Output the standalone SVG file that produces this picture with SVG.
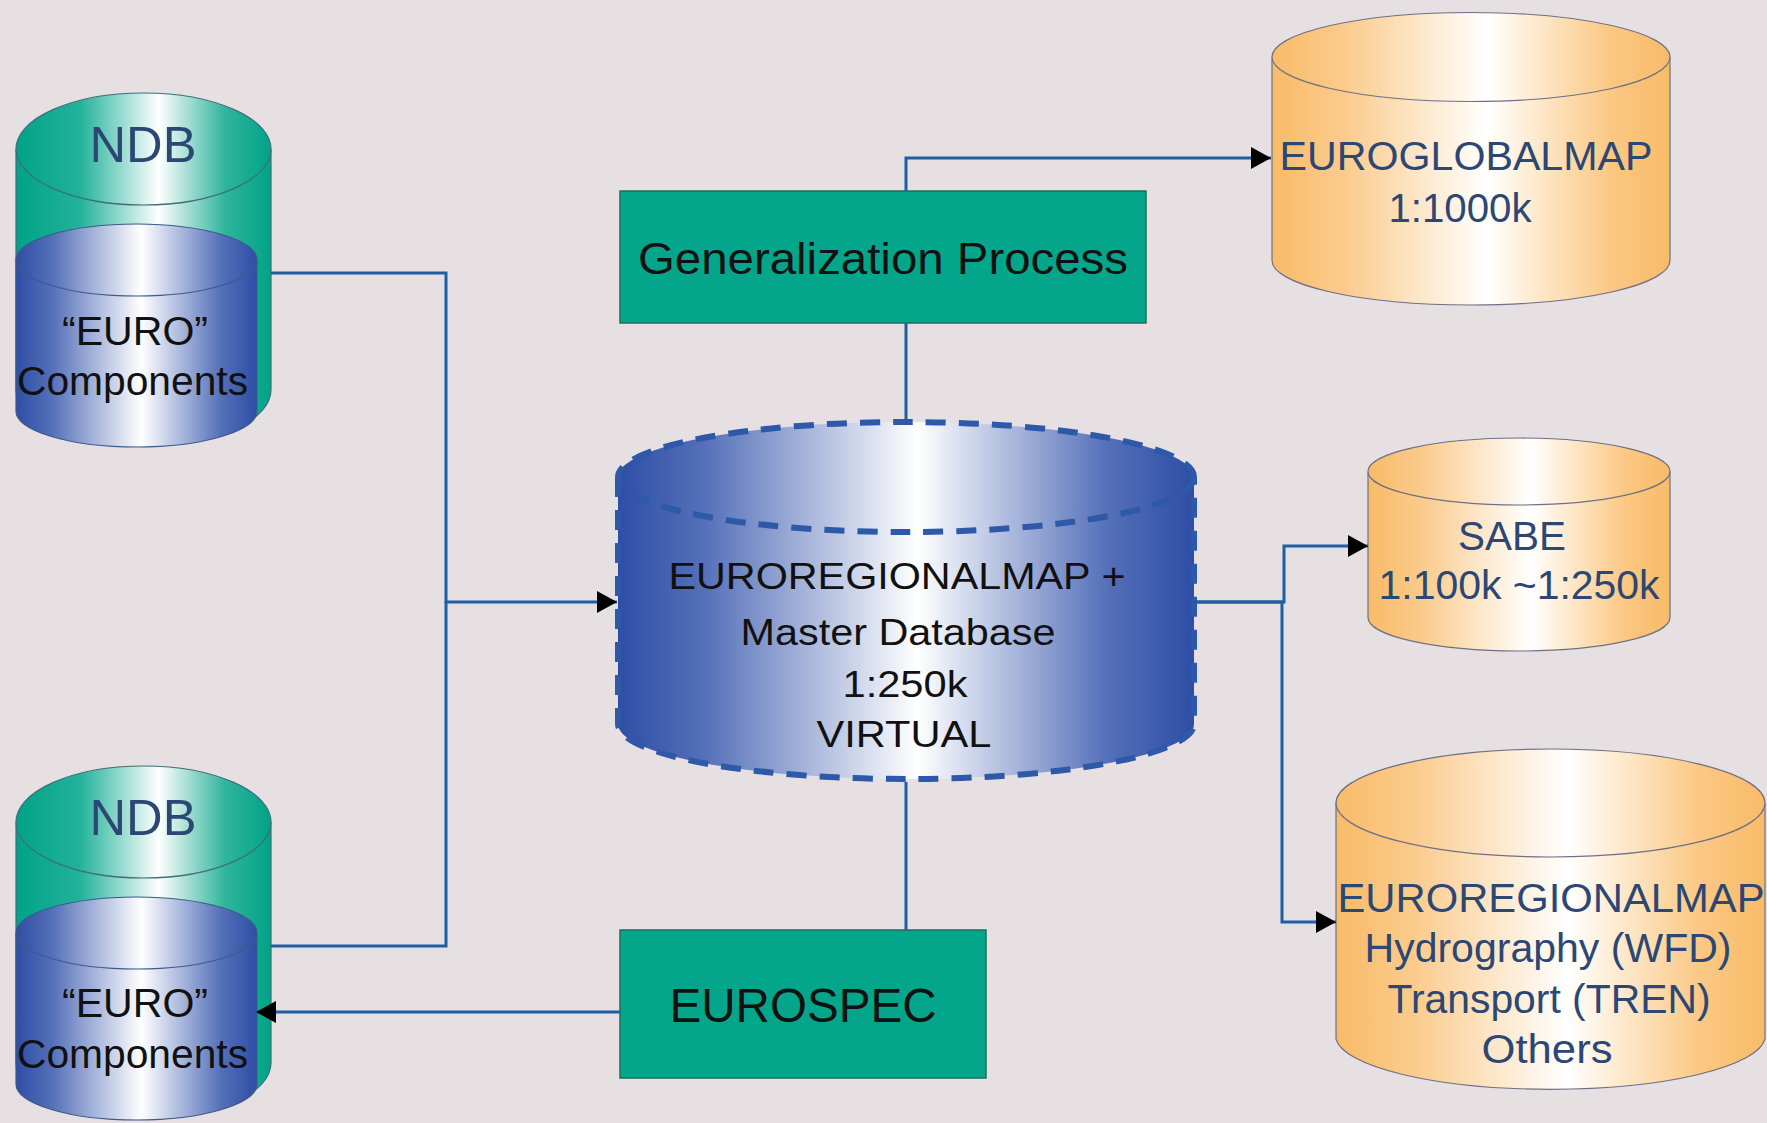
<svg xmlns="http://www.w3.org/2000/svg" width="1767" height="1123" viewBox="0 0 1767 1123">
<defs>
<linearGradient id="gGreen" x1="0" y1="0" x2="1" y2="0">
<stop offset="0" stop-color="#00a388"/><stop offset="0.25" stop-color="#22b29a"/><stop offset="0.56" stop-color="#ffffff"/><stop offset="0.82" stop-color="#2fb59c"/><stop offset="1" stop-color="#00a388"/>
</linearGradient>
<linearGradient id="gBlue" x1="0" y1="0" x2="1" y2="0">
<stop offset="0" stop-color="#2e4ea6"/><stop offset="0.15" stop-color="#5570b9"/><stop offset="0.52" stop-color="#ffffff"/><stop offset="0.85" stop-color="#5570b9"/><stop offset="1" stop-color="#2e4ea6"/>
</linearGradient>
<linearGradient id="gOrange" x1="0" y1="0" x2="1" y2="0">
<stop offset="0" stop-color="#f8bb68"/><stop offset="0.18" stop-color="#fbcb8c"/><stop offset="0.54" stop-color="#ffffff"/><stop offset="0.85" stop-color="#fbc883"/><stop offset="1" stop-color="#f8bb68"/>
</linearGradient>
<marker id="arr" viewBox="0 0 20 22" refX="20" refY="11" markerWidth="20" markerHeight="22" markerUnits="userSpaceOnUse" orient="auto">
<path d="M0,0 L20,11 L0,22 Z" fill="#000"/>
</marker>
</defs>
<style>
.bg{fill:#e6e0e2}
.conn{fill:none;stroke:#1d5fa3;stroke-width:3}
.green{fill:url(#gGreen);stroke:#3d6f78;stroke-width:1.2}
.blue{fill:url(#gBlue);stroke:#3d5a8a;stroke-width:1.2}
.orange{fill:url(#gOrange);stroke:#6f7085;stroke-width:1.2}
.dash{fill:none;stroke:#2e58a8;stroke-width:6;stroke-dasharray:20 13}
.box{fill:#03a58b;stroke:#17705f;stroke-width:1.5}
.t{font-family:"Liberation Sans",Arial,sans-serif;text-anchor:middle}
.dk{fill:#111}
.nb{fill:#2c4773}
</style>
<rect class="bg" x="0" y="0" width="1767" height="1123"/>

<g id="ndb-top">
<path class="green" d="M16,149 V390 A127.5,56 0 0 0 271,390 V149"/>
<ellipse class="green" cx="143.5" cy="149" rx="127.5" ry="56"/>
<path class="blue" d="M16,260 V411 A120.5,36 0 0 0 257,411 V260"/>
<ellipse class="blue" cx="136.5" cy="260" rx="120.5" ry="36"/>
<text class="t nb" x="143" y="162" font-size="50" textLength="107" lengthAdjust="spacingAndGlyphs">NDB</text>
<text class="t dk" x="135" y="345" font-size="41" textLength="146" lengthAdjust="spacingAndGlyphs">“EURO”</text>
<text class="t dk" x="132.5" y="395" font-size="41" textLength="231" lengthAdjust="spacingAndGlyphs">Components</text>
</g>

<g id="ndb-bottom">
<path class="green" d="M16,822 V1063 A127.5,56 0 0 0 271,1063 V822"/>
<ellipse class="green" cx="143.5" cy="822" rx="127.5" ry="56"/>
<path class="blue" d="M16,933 V1084 A120.5,36 0 0 0 257,1084 V933"/>
<ellipse class="blue" cx="136.5" cy="933" rx="120.5" ry="36"/>
<text class="t nb" x="143" y="835" font-size="50" textLength="107" lengthAdjust="spacingAndGlyphs">NDB</text>
<text class="t dk" x="135" y="1017" font-size="41" textLength="146" lengthAdjust="spacingAndGlyphs">“EURO”</text>
<text class="t dk" x="132.5" y="1068" font-size="41" textLength="231" lengthAdjust="spacingAndGlyphs">Components</text>
</g>

<g id="generalization">
<rect class="box" x="620" y="191" width="526" height="132"/>
<text class="t dk" x="883" y="274" font-size="45" textLength="490" lengthAdjust="spacingAndGlyphs">Generalization Process</text>
</g>

<g id="eurospec">
<rect class="box" x="620" y="930" width="366" height="148"/>
<text class="t dk" x="803" y="1022" font-size="48" textLength="267" lengthAdjust="spacingAndGlyphs">EUROSPEC</text>
</g>

<g id="master">
<path d="M618,477 A288,55 0 0 1 1194,477 V724 A288,55 0 0 1 618,724 Z" fill="url(#gBlue)"/>
<path class="dash" d="M618,477 V724 A288,55 0 0 0 1194,724 V477"/>
<ellipse class="dash" cx="906" cy="477" rx="288" ry="55"/>
<text class="t dk" x="897" y="589" font-size="37" textLength="457" lengthAdjust="spacingAndGlyphs">EUROREGIONALMAP +</text>
<text class="t dk" x="898" y="645" font-size="37" textLength="315" lengthAdjust="spacingAndGlyphs">Master Database</text>
<text class="t dk" x="905" y="697" font-size="37" textLength="125" lengthAdjust="spacingAndGlyphs">1:250k</text>
<text class="t dk" x="904" y="747" font-size="37" textLength="175" lengthAdjust="spacingAndGlyphs">VIRTUAL</text>
</g>

<g id="euroglobalmap">
<path class="orange" d="M1272,57 V260.5 A199,44.5 0 0 0 1670,260.5 V57"/>
<ellipse class="orange" cx="1471" cy="57" rx="199" ry="44.5"/>
<text class="t nb" x="1466" y="170" font-size="40" textLength="373" lengthAdjust="spacingAndGlyphs">EUROGLOBALMAP</text>
<text class="t nb" x="1460" y="222" font-size="40" textLength="143" lengthAdjust="spacingAndGlyphs">1:1000k</text>
</g>

<g id="sabe">
<path class="orange" d="M1368,471.5 V617.5 A151,33.5 0 0 0 1670,617.5 V471.5"/>
<ellipse class="orange" cx="1519" cy="471.5" rx="151" ry="33.5"/>
<text class="t nb" x="1512" y="550" font-size="40" textLength="108" lengthAdjust="spacingAndGlyphs">SABE</text>
<text class="t nb" x="1519" y="599" font-size="40" textLength="281" lengthAdjust="spacingAndGlyphs">1:100k ~1:250k</text>
</g>

<g id="euroregionalmap-themes">
<path class="orange" d="M1336,803 V1039 A215,54 0 0 0 1765,1039 V803"/>
<ellipse class="orange" cx="1550.5" cy="803" rx="214.5" ry="54"/>
<text class="t nb" x="1551" y="912" font-size="40" textLength="427" lengthAdjust="spacingAndGlyphs">EUROREGIONALMAP</text>
<text class="t nb" x="1548" y="962" font-size="40" textLength="367" lengthAdjust="spacingAndGlyphs">Hydrography (WFD)</text>
<text class="t nb" x="1549" y="1013" font-size="40" textLength="323" lengthAdjust="spacingAndGlyphs">Transport (TREN)</text>
<text class="t nb" x="1547" y="1063" font-size="40" textLength="131" lengthAdjust="spacingAndGlyphs">Others</text>
</g>

<g id="connectors">
<path class="conn" d="M271,273 H446 V602 H617" marker-end="url(#arr)"/>
<path class="conn" d="M271,946 H446 V602"/>
<path class="conn" d="M906,420 V323"/>
<path class="conn" d="M906,191 V158 H1271" marker-end="url(#arr)"/>
<path class="conn" d="M906,782 V930"/>
<path class="conn" d="M620,1012 H256" marker-end="url(#arr)"/>
<path class="conn" d="M1194,602 H1284 V546 H1368" marker-end="url(#arr)"/>
<path class="conn" d="M1194,602 H1282 V922 H1336" marker-end="url(#arr)"/>
</g>
</svg>
